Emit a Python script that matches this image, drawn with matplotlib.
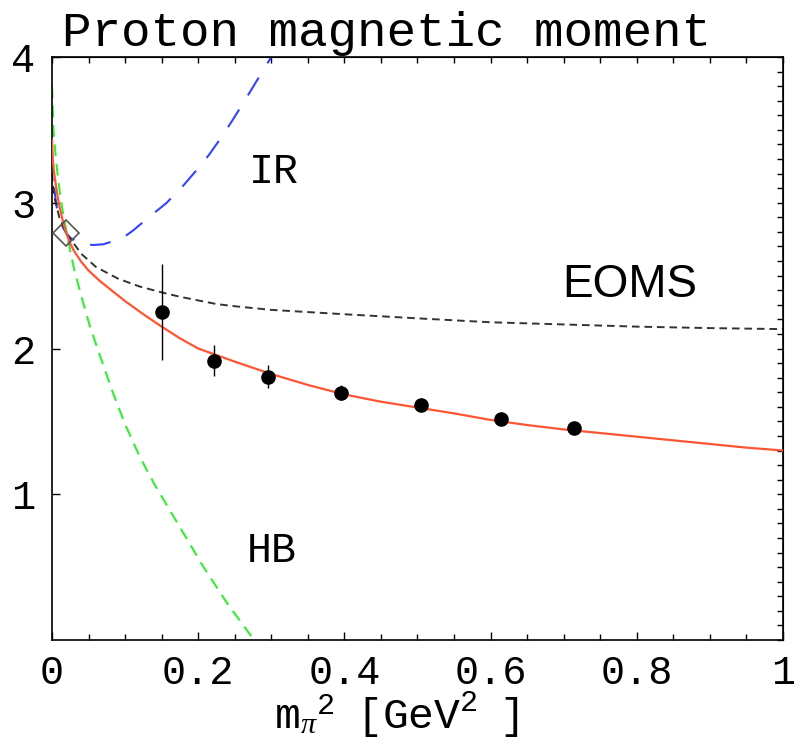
import matplotlib
matplotlib.use("Agg")
import matplotlib.pyplot as plt
from matplotlib.ticker import FixedLocator, MultipleLocator, NullFormatter

plt.rcParams['lines.scale_dashes'] = False
plt.rcParams['mathtext.fontset'] = 'custom'
plt.rcParams['mathtext.rm'] = 'Liberation Mono'
plt.rcParams['mathtext.it'] = 'Liberation Serif:italic'

# ---- data ----
# lattice points (m_pi^2 [GeV^2], mu_p, error)
lat_x = [0.150, 0.221, 0.296, 0.395, 0.505, 0.614, 0.714]
lat_y = [2.248, 1.916, 1.807, 1.697, 1.611, 1.514, 1.457]
lat_err = [0.33, 0.105, 0.08, 0.05, 0.03, 0.02, 0.02]

# physical point
phys_x = [0.0195]
phys_y = [2.79]

# red solid curve
red_x = [0, 0.001, 0.0025, 0.005, 0.0075, 0.01, 0.015, 0.0195, 0.025, 0.03, 0.04,
         0.05, 0.065, 0.08, 0.1, 0.125, 0.15, 0.175, 0.2, 0.225, 0.25, 0.3, 0.35,
         0.4, 0.45, 0.5, 0.55, 0.6, 0.65, 0.7, 0.75, 0.8, 0.85, 0.9, 0.95, 1.0]
red_y = [3.43, 3.30, 3.22, 3.13, 3.05, 2.98, 2.87, 2.79, 2.72, 2.67, 2.595,
         2.535, 2.465, 2.405, 2.325, 2.235, 2.15, 2.07, 2.00, 1.955, 1.91, 1.825, 1.75,
         1.685, 1.635, 1.595, 1.555, 1.51, 1.475, 1.445, 1.42, 1.395, 1.37, 1.345, 1.32, 1.30]

# black dotted curve (EOMS)
eoms_x = [0, 0.002, 0.005, 0.01, 0.0195, 0.027, 0.04, 0.06, 0.09, 0.12, 0.15, 0.175,
          0.2, 0.225, 0.25, 0.3, 0.35, 0.4, 0.5, 0.6, 0.7, 0.8, 0.9, 1.0]
eoms_y = [3.20, 3.08, 3.00, 2.90, 2.79, 2.74, 2.65, 2.56, 2.48, 2.425, 2.385, 2.355,
          2.33, 2.305, 2.29, 2.265, 2.25, 2.235, 2.207, 2.18, 2.165, 2.15, 2.14, 2.133]

# blue long-dashed curve (IR)
ir_x = [0, 0.001, 0.0025, 0.005, 0.0075, 0.01, 0.015, 0.0195, 0.025, 0.035, 0.045,
        0.0565, 0.07, 0.086, 0.1, 0.111, 0.13, 0.157, 0.18, 0.198, 0.215, 0.234,
        0.25, 0.266, 0.283, 0.300, 0.31]
ir_y = [3.36, 3.22, 3.12, 3.02, 2.94, 2.89, 2.83, 2.79, 2.76, 2.73, 2.715,
        2.71, 2.715, 2.74, 2.77, 2.81, 2.89, 3.00, 3.12, 3.225, 3.33, 3.465,
        3.59, 3.72, 3.86, 4.00, 4.08]

# green dashed curve (HB)
hb_x = [0, 0.002, 0.005, 0.0075, 0.011, 0.015, 0.0195, 0.025, 0.03, 0.04, 0.052,
        0.065, 0.082, 0.1, 0.12, 0.14, 0.161, 0.185, 0.207, 0.24, 0.275, 0.28]
hb_y = [3.80, 3.50, 3.32, 3.20, 3.06, 2.93, 2.81, 2.67, 2.55, 2.36, 2.15,
        1.96, 1.715, 1.48, 1.258, 1.07, 0.892, 0.69, 0.503, 0.25, 0.01, -0.03]

x_ticks = [0, 0.2, 0.4, 0.6, 0.8, 1.0]
x_tick_labels = ["0", "0.2", "0.4", "0.6", "0.8", "1"]
y_ticks = [1, 2, 3, 4]
y_tick_labels = ["1", "2", "3", "4"]

mono = 'Liberation Mono'

fig = plt.figure(figsize=(7.94, 7.40), dpi=100)
ax = fig.add_axes([0.0655, 0.1351, 0.9205, 0.7879])

ax.plot(hb_x, hb_y, color='#33ee33', lw=1.5, dashes=(8.5, 5.5), zorder=2)
ax.plot(ir_x, ir_y, color='#3344ff', lw=1.5, dashes=(15, 12), zorder=2)
ax.plot(eoms_x, eoms_y, color='#333333', lw=1.4, dashes=(5.5, 3.5), zorder=2)
ax.plot(red_x, red_y, color='#ff5533', lw=1.6, zorder=3)

ax.errorbar(lat_x, lat_y, yerr=lat_err, fmt='o', color='black', ms=9.5,
            elinewidth=1.0, capsize=0, zorder=4)
ax.plot(phys_x, phys_y, marker='D', ms=13, mfc='none', mec='#555555', mew=1.2,
        ls='none', zorder=5)

ax.set_xlim(0, 1)
ax.set_ylim(0, 4)

ax.xaxis.set_major_locator(FixedLocator(x_ticks))
ax.set_xticklabels(x_tick_labels)
ax.xaxis.set_minor_locator(MultipleLocator(0.05))
ax.yaxis.set_major_locator(FixedLocator(y_ticks))
ax.set_yticklabels(y_tick_labels)

ax.tick_params(which='both', direction='in', top=False, right=False, width=1.0,
               labelsize=29, colors='black')
ax.tick_params(which='major', length=6)
ax.tick_params(which='minor', length=4)
ax.tick_params(axis='x', pad=10)
ax.tick_params(axis='y', pad=12)
for lab in ax.get_xticklabels() + ax.get_yticklabels():
    lab.set_family(mono)

secx = ax.secondary_xaxis('top')
secx.xaxis.set_major_locator(MultipleLocator(0.05))
secx.xaxis.set_major_formatter(NullFormatter())
secx.tick_params(direction='in', length=4, width=1.0)

secy = ax.secondary_yaxis('right')
secy.yaxis.set_major_locator(MultipleLocator(0.1))
secy.yaxis.set_major_formatter(NullFormatter())
secy.tick_params(direction='in', length=4, width=1.0)

for sp in list(ax.spines.values()):
    sp.set_linewidth(1.2)

ax.set_title("Proton magnetic moment", family=mono, fontsize=35.5, pad=8, x=0.458)
fig.text(0.499, 0.0155, r'$\mathrm{m}_{\pi}{}^{2}\ \ \mathrm{[GeV^{2}\ \ ]}$',
         fontsize=31, ha='center', va='baseline')

ax.text(0.304, 3.21, "IR", family=mono, fontsize=30, ha='center', va='center')
ax.text(0.30, 0.61, "HB", family=mono, fontsize=30, ha='center', va='center')
ax.text(0.79, 2.435, "EOMS", family='Liberation Sans', fontsize=33, ha='center', va='center')

fig.savefig("out.png", dpi=100)
